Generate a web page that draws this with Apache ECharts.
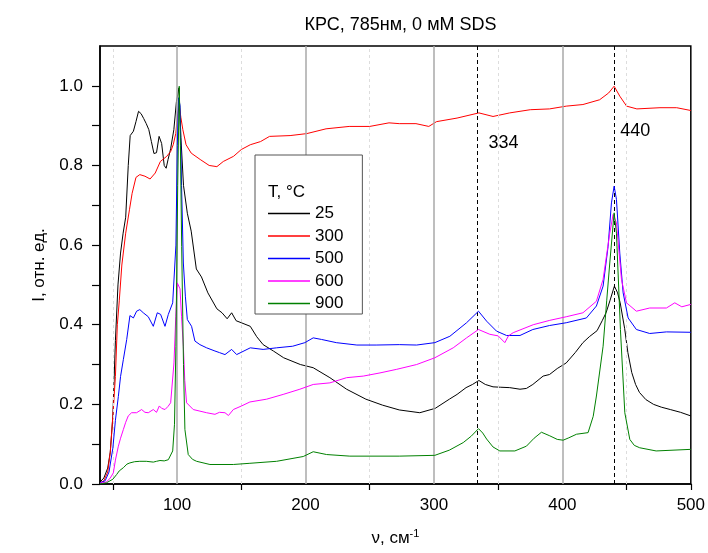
<!DOCTYPE html>
<html>
<head>
<meta charset="utf-8">
<script src="https://cdn.jsdelivr.net/npm/echarts@6/dist/echarts.min.js"></script>
<style>
html,body{margin:0;padding:0;background:#fff;}
#chart{width:708px;height:553px;}
</style>
</head>
<body>
<div id="chart"></div>
<script>
// ---- data ----
const seriesNames = ['25', '300', '500', '600', '900'];
const legendTitle = 'T, °C';
const titleText = 'КРС, 785нм, 0 мМ SDS';
const xTickLabels = [100, 200, 300, 400, 500];
const yTickLabels = [0, 0.2, 0.4, 0.6, 0.8, 1.0];
const peakMarks = [334, 440];

const x25 = [40,43,46,48,50,52,54,56,58,60,62,63.5,66,68,70,72,74,76,78,80,82,84,86,88,90,91.5,93,95,97.5,99.5,101.5,103,105,108,111,115,119,124,131,135,139,142.5,146,150,157,162,167,175,183,196,206,219,232,247,260,273,289,301,312,318,325,330,335,340,346,352,359,367,372,377,385,390,396,403,410,416,421,427,431,434,437,440.5,443,445,448.5,451,454,457,460,465,471,477,484,492,500];
const y25 = [0.005,0.015,0.04,0.08,0.17,0.36,0.5,0.58,0.63,0.67,0.8,0.875,0.886,0.91,0.936,0.93,0.918,0.905,0.89,0.86,0.83,0.832,0.873,0.855,0.8,0.793,0.815,0.842,0.89,0.96,0.995,0.87,0.75,0.68,0.635,0.54,0.52,0.48,0.44,0.43,0.415,0.43,0.41,0.405,0.396,0.37,0.35,0.334,0.317,0.3,0.292,0.267,0.238,0.213,0.198,0.186,0.179,0.19,0.213,0.225,0.242,0.25,0.26,0.25,0.244,0.243,0.242,0.238,0.24,0.25,0.271,0.275,0.29,0.304,0.33,0.355,0.37,0.385,0.41,0.43,0.46,0.497,0.48,0.455,0.39,0.33,0.28,0.25,0.23,0.212,0.2,0.193,0.187,0.18,0.171];

const x300 = [40,43,46,48,50,52,53.5,55,57,60,63,65,68,71,75,79,83,87,92,95,97,99,100.5,101.7,103,104.5,107,111,118,125,131,136,144,150,157,165,172,188,201,216,234,250,265,273,286,296,302,318,335,346,359,375,390,403,416,429,436,440.3,444.7,450,458,476,489,500];
const y300 = [0.003,0.008,0.03,0.08,0.17,0.27,0.4,0.46,0.55,0.63,0.69,0.73,0.77,0.777,0.773,0.766,0.781,0.81,0.823,0.835,0.852,0.88,0.93,0.95,0.92,0.89,0.852,0.831,0.815,0.8,0.797,0.81,0.823,0.84,0.852,0.86,0.873,0.875,0.88,0.892,0.898,0.898,0.907,0.905,0.905,0.898,0.91,0.919,0.932,0.923,0.932,0.94,0.942,0.949,0.953,0.965,0.982,0.999,0.974,0.949,0.942,0.945,0.945,0.938];

const x500 = [40,44,47,50,52,54.3,56,58.2,60.8,63.3,66,68.5,71,73.7,77.6,81.5,84.6,87.2,90.6,93.2,96.6,99.1,100.2,101.2,102.3,103.5,104.9,106.5,108,111.3,113.9,117.8,123,129.5,133,137.3,142.5,146.4,157,167,177.5,190,199.5,206,212.5,224,240,255,273,286.5,300.7,312.4,325.4,334.7,341,348.7,356.5,367,377,390,403,418.7,426.5,431.7,435.6,438.2,440.3,442.1,444.7,447.3,451.2,457.6,468,481,500];
const y500 = [0.003,0.008,0.03,0.09,0.16,0.22,0.27,0.313,0.363,0.423,0.417,0.434,0.438,0.43,0.42,0.396,0.43,0.426,0.396,0.426,0.455,0.6,0.85,0.97,0.95,0.75,0.555,0.47,0.413,0.396,0.359,0.35,0.342,0.334,0.33,0.325,0.338,0.325,0.342,0.338,0.342,0.346,0.355,0.367,0.363,0.355,0.349,0.349,0.35,0.349,0.355,0.371,0.405,0.434,0.409,0.384,0.373,0.373,0.388,0.398,0.405,0.417,0.447,0.497,0.597,0.706,0.748,0.715,0.58,0.48,0.417,0.388,0.378,0.382,0.381];

const x600 = [40,45,48,50.4,52,54.3,56,58.2,60,62,64.6,68.5,72.4,75,77.6,81.5,84,86.2,88,90.6,93,95,97.6,99,100.2,102.3,103.5,104.9,106,107.4,112.6,117.8,123,129.5,133,137.3,140,143.8,150.2,156.7,169.7,182.6,195.6,206,219,232,245,258,271,286.5,300.7,315,325.4,334.7,343.5,350,355.2,358,361.7,377.3,390.2,403,416,426.5,431.7,436.9,439.5,442.1,446,449.9,457.6,468,481,487.5,493,500];
const y600 = [0.002,0.005,0.015,0.028,0.06,0.095,0.115,0.137,0.155,0.171,0.179,0.179,0.187,0.18,0.179,0.187,0.18,0.196,0.19,0.187,0.195,0.204,0.304,0.42,0.505,0.49,0.42,0.346,0.26,0.204,0.187,0.183,0.179,0.175,0.18,0.179,0.172,0.187,0.196,0.206,0.213,0.225,0.238,0.25,0.254,0.267,0.271,0.279,0.288,0.3,0.317,0.342,0.367,0.388,0.376,0.372,0.355,0.372,0.38,0.4,0.411,0.42,0.43,0.459,0.514,0.63,0.677,0.656,0.514,0.455,0.434,0.442,0.442,0.455,0.445,0.451];

const x900 = [40,45,50,53,55,58.2,61,63.3,67,71,76,81.5,84,86.7,90,93.2,96.6,98,99.1,100.5,101.7,102.6,103.6,105,106.1,108.7,112,115.2,125.6,143.8,156.7,177.5,198.2,206,216.4,234.5,273,300.7,312,322.8,329,334.7,338,341,346,351.3,363,372,378,383.7,390.2,396,400.6,405,411,420,424,426.5,431.7,434.5,436.9,440.3,442.1,445.2,448.6,452.5,456,460.2,473,500];
const y900 = [0,0.003,0.012,0.024,0.033,0.041,0.05,0.053,0.056,0.057,0.057,0.055,0.057,0.059,0.058,0.061,0.083,0.15,0.346,0.75,0.999,0.85,0.597,0.3,0.137,0.074,0.062,0.057,0.049,0.049,0.052,0.057,0.069,0.081,0.074,0.07,0.07,0.072,0.085,0.104,0.12,0.139,0.128,0.113,0.093,0.083,0.083,0.095,0.115,0.13,0.121,0.112,0.11,0.116,0.125,0.129,0.17,0.221,0.346,0.46,0.555,0.681,0.63,0.388,0.179,0.112,0.097,0.091,0.083,0.087];

const seriesX = [x25, x300, x500, x600, x900];
const seriesY = [y25, y300, y500, y600, y900];
const seriesColors = ['#000000', '#ff0000', '#0000ff', '#ff00ff', '#008000'];

// ---- chart ----
const FONT = '"Liberation Sans", Arial, sans-serif';
const chart = echarts.init(document.getElementById('chart'), null, {renderer: 'canvas'});

const gridLines = [];
[100, 200, 300, 400].forEach(v => gridLines.push({xAxis: v, lineStyle: {color: '#a8a8a8', width: 1.5, type: 'solid'}}));
[50, 150, 250, 350, 450].forEach(v => gridLines.push({xAxis: v, lineStyle: {color: '#dddddd', width: 1, type: [3, 3]}}));
peakMarks.forEach(v => gridLines.push({xAxis: v, lineStyle: {color: '#000', width: 1, type: [4, 3]}}));

const dataSeries = seriesNames.map((name, i) => ({
  name: name,
  type: 'line',
  data: seriesX[i].map((x, j) => [x, seriesY[i][j]]),
  symbol: 'none',
  smooth: false,
  lineStyle: {color: seriesColors[i], width: 1},
  itemStyle: {color: seriesColors[i]},
  z: 3 + i,
  animation: false
}));

const annotSeries = {
  name: 'annot',
  type: 'line',
  data: [],
  symbol: 'none',
  z: 1,
  silent: true,
  animation: false,
  markLine: {
    silent: true,
    symbol: ['none', 'none'],
    label: {show: false},
    animation: false,
    data: gridLines
  },
  markPoint: {
    silent: true,
    animation: false,
    symbol: 'circle',
    symbolSize: 1,
    itemStyle: {color: 'rgba(0,0,0,0)'},
    label: {show: true, position: 'right', distance: 0, color: '#000', fontSize: 18, fontFamily: FONT},
    data: [
      {coord: [342, 0.856], value: peakMarks[0], label: {formatter: String(peakMarks[0])}},
      {coord: [444.7, 0.886], value: peakMarks[1], label: {formatter: String(peakMarks[1])}}
    ]
  }
};

const option = {
  backgroundColor: '#fff',
  animation: false,
  title: {
    text: titleText,
    left: 395.5,
    top: 11,
    textAlign: 'center',
    textStyle: {fontFamily: FONT, fontSize: 18, fontWeight: 'normal', color: '#000'}
  },
  grid: {left: 100, right: 17, top: 46, bottom: 69, show: true, borderColor: '#000', borderWidth: 1.5, backgroundColor: 'transparent'},
  legend: {
    data: seriesNames,
    orient: 'vertical',
    left: 255,
    top: 155,
    padding: [50, 19, 2, 13],
    icon: 'rect',
    itemWidth: 42,
    itemHeight: 1.5,
    itemGap: 5.5,
    backgroundColor: '#fff',
    borderColor: '#555',
    borderWidth: 1,
    borderRadius: 0,
    textStyle: {fontFamily: FONT, fontSize: 17, color: '#000', lineHeight: 17},
    z: 20
  },
  graphic: [{
    type: 'text',
    left: 268,
    top: 184,
    z: 30,
    style: {text: legendTitle, fontFamily: FONT, fontSize: 17, fill: '#000'}
  }],
  xAxis: {
    type: 'value',
    min: 40,
    max: 500,
    name: 'ν, см{sup|-1}',
    nameLocation: 'middle',
    nameGap: 44,
    nameTextStyle: {fontFamily: FONT, fontSize: 17, color: '#000',
      rich: {sup: {fontFamily: FONT, fontSize: 11, verticalAlign: 'top', padding: [0, 0, 10, 0], color: '#000'}}},
    axisLine: {show: true, onZero: false, lineStyle: {color: '#000', width: 1.5}},
    axisTick: {show: true, length: 6, inside: false, customValues: [50, 150, 250, 350, 450, 500], lineStyle: {color: '#000', width: 1.2}},
    axisLabel: {show: true, customValues: xTickLabels, margin: 13, fontFamily: FONT, fontSize: 17, color: '#000'},
    splitLine: {show: false},
    minorTick: {show: false}
  },
  yAxis: {
    type: 'value',
    min: 0,
    max: 1.1,
    name: 'I, отн. ед.',
    nameLocation: 'middle',
    nameGap: 52,
    nameTextStyle: {fontFamily: FONT, fontSize: 17, color: '#000'},
    axisLine: {show: true, onZero: false, lineStyle: {color: '#000', width: 1.5}},
    axisTick: {show: true, length: 8, inside: false, customValues: [0, 0.1, 0.2, 0.3, 0.4, 0.5, 0.6, 0.7, 0.8, 0.9, 1.0], lineStyle: {color: '#000', width: 1.2}},
    axisLabel: {show: true, customValues: yTickLabels, margin: 17, fontFamily: FONT, fontSize: 17, color: '#000',
      formatter: v => Number(v).toFixed(1)},
    splitLine: {show: false}
  },
  series: [annotSeries].concat(dataSeries)
};
chart.setOption(option);
</script>
</body>
</html>
